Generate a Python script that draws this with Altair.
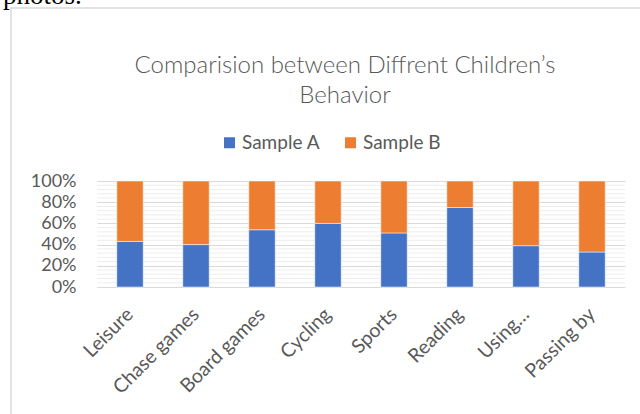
import altair as alt
import pandas as pd

categories = ["Leisure", "Chase games", "Board games", "Cycling", "Sports",
              "Reading", "Using…", "Passing by"]
sample_a = [43, 40, 54, 60, 51, 75, 39, 33]
sample_b = [57, 60, 46, 40, 49, 25, 61, 67]
series = ["Sample A", "Sample B"]
colors = ["#4472C4", "#ED7D31"]
title_lines = ["Comparision between Diffrent Children’s", "Behavior"]
major_ticks = [0, 0.2, 0.4, 0.6, 0.8, 1.0]
minor_ticks = [0.04, 0.08, 0.12, 0.16, 0.24, 0.28, 0.32, 0.36, 0.44, 0.48,
               0.52, 0.56, 0.64, 0.68, 0.72, 0.76, 0.84, 0.88, 0.92, 0.96]

rows = []
for i, c in enumerate(categories):
    rows.append({"cat": c, "series": series[0], "value": sample_a[i], "ord": 0})
    rows.append({"cat": c, "series": series[1], "value": sample_b[i], "ord": 1})
df = pd.DataFrame(rows)

FONT = "Lato"
GREY = "#595959"

one = pd.DataFrame({"k": [0]})

y_axis = alt.Axis(title=None, format="%", values=major_ticks,
                  labelFontSize=18, labelColor=GREY, labelFont=FONT,
                  grid=True, gridColor="#d9d9d9", gridWidth=1.2,
                  ticks=False, domain=False, labelPadding=21)

frame = alt.Chart(one).mark_rect(
    fillOpacity=0, stroke="#d9d9d9", strokeWidth=1.5
).encode(x=alt.value(-86), x2=alt.value(560), y=alt.value(-173), y2=alt.value(260))

photo = alt.Chart(one).mark_text(
    text="photos.", font="Liberation Serif", fontSize=27, align="left",
    baseline="alphabetic", color="black"
).encode(x=alt.value(-94), y=alt.value(-177))

title = alt.Chart(one).mark_text(
    text=title_lines, font=FONT, fontSize=24, fontWeight=300, color=GREY,
    align="center", baseline="alphabetic", lineHeight=30
).encode(x=alt.value(248), y=alt.value(-108))

minor = alt.Chart(pd.DataFrame({"v": minor_ticks})).mark_rule(
    color="#eeeeee", strokeWidth=1
).encode(y=alt.Y("v:Q", scale=alt.Scale(domain=[0, 1]), axis=y_axis))

bars = alt.Chart(df).mark_bar(stroke="white", strokeWidth=0.5).encode(
    x=alt.X("cat:N", sort=categories,
            scale=alt.Scale(paddingInner=0.6, paddingOuter=0.3),
            axis=alt.Axis(title=None, labelAngle=-45, labelAlign="right",
                          labelBaseline="middle", labelFontSize=19.5,
                          labelColor=GREY, labelFont=FONT, ticks=False,
                          domain=False, labelPadding=24, grid=False)),
    y=alt.Y("value:Q", stack="normalize", scale=alt.Scale(domain=[0, 1]),
            axis=y_axis),
    color=alt.Color("series:N", scale=alt.Scale(domain=series, range=colors),
                    legend=alt.Legend(title=None, orient="none", legendX=123,
                                      legendY=-48, direction="horizontal",
                                      symbolType="square", symbolSize=121,
                                      symbolStrokeWidth=0, labelFontSize=19,
                                      labelFont=FONT, labelColor=GREY,
                                      columnPadding=20, labelOffset=3,
                                      padding=0)),
    order=alt.Order("ord:Q", sort="ascending"),
)

chart = alt.layer(frame, photo, title, minor, bars).properties(
    width=528, height=106,
    autosize=alt.AutoSizeParams(type="none"),
    padding={"left": 97, "top": 181, "right": 15, "bottom": 127},
    background="white",
).configure_view(stroke=None)

chart.save("out.html", embed_options={"renderer": "svg", "actions": False})
